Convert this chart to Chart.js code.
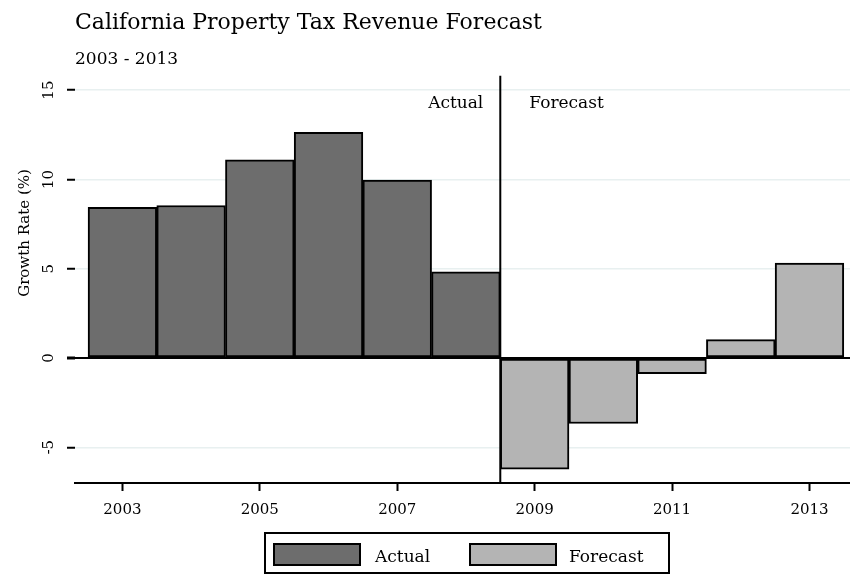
<!DOCTYPE html>
<html>
<head>
<meta charset="utf-8">
<script src="https://cdn.jsdelivr.net/npm/chart.js@4"></script>
<style>
  html, body { margin: 0; padding: 0; background: #fff; }
  #wrap { position: relative; width: 850px; height: 574px; }
  #legend { position: absolute; left: 264px; top: 532px; width: 406px; height: 42px; box-sizing: border-box;
            border: 2px solid #000; font-family: "DejaVu Serif"; font-size: 17px; color: #000; }
  .sw { position: absolute; top: 9px; width: 88px; height: 23px; box-sizing: border-box; border: 2px solid #000; }
  .lbl { position: absolute; top: 11px; line-height: 23px; white-space: nowrap; }
</style>
</head>
<body>
<div id="wrap">
  <canvas id="chart" width="850" height="574"></canvas>
  <div id="legend"></div>
</div>
<script>
// chart data
const titleText = 'California Property Tax Revenue Forecast';
const subtitleText = '2003 - 2013';
const yAxisTitle = 'Growth Rate (%)';
const actualYears = [2003, 2004, 2005, 2006, 2007, 2008];
const actualValues = [8.43, 8.54, 11.1, 12.64, 9.96, 4.83];
const forecastYears = [2009, 2010, 2011, 2012, 2013];
const forecastValues = [-6.22, -3.67, -0.88, 1.03, 5.32];
const xTickYears = [2003, 2005, 2007, 2009, 2011, 2013];
const yTickValues = [-5, 0, 5, 10, 15];
const splitYear = 2008.5;

const FONT = 'DejaVu Serif';
const GRID = '#e8f0f0';

function toPoints(years, values) {
  return years.map((x, i) => ({ x: x, y: values[i] }));
}

// vertical divider with "Actual" / "Forecast" labels, plus the y title
const dividerPlugin = {
  id: 'divider',
  afterDatasetsDraw(chart) {
    const { ctx, chartArea, scales } = chart;
    const x = scales.x.getPixelForValue(splitYear);
    ctx.save();
    ctx.strokeStyle = '#000';
    ctx.lineWidth = 2;
    ctx.beginPath();
    ctx.moveTo(x, chartArea.top);
    ctx.lineTo(x, chartArea.bottom);
    ctx.stroke();

    ctx.fillStyle = '#000';
    ctx.font = '17px "' + FONT + '"';
    ctx.textBaseline = 'alphabetic';
    ctx.textAlign = 'right';
    ctx.fillText('Actual', x - 17, chartArea.top + 32);
    ctx.textAlign = 'left';
    ctx.fillText('Forecast', x + 29, chartArea.top + 32);

    // y axis title, centred a bit above the middle as in the original
    ctx.font = '15px "' + FONT + '"';
    ctx.translate(25, scales.y.getPixelForValue(7));
    ctx.rotate(-Math.PI / 2);
    ctx.textAlign = 'center';
    ctx.textBaseline = 'middle';
    ctx.fillText(yAxisTitle, 0, 0);
    ctx.restore();
  }
};

const barStyle = {
  borderColor: '#000',
  borderWidth: 2,
  borderSkipped: false,
  grouped: false,
  barPercentage: 1,
  categoryPercentage: 1
};

const chart = new Chart(document.getElementById('chart'), {
  type: 'bar',
  data: {
    datasets: [
      Object.assign({ label: 'Actual', data: toPoints(actualYears, actualValues), backgroundColor: '#6d6d6d' }, barStyle),
      Object.assign({ label: 'Forecast', data: toPoints(forecastYears, forecastValues), backgroundColor: '#b4b4b4' }, barStyle)
    ]
  },
  options: {
    responsive: false,
    animation: false,
    layout: { padding: { left: 0, right: 0, top: 0, bottom: 45 } },
    plugins: {
      legend: { display: false },
      tooltip: { enabled: false },
      title: {
        display: true, text: titleText, align: 'start', fullSize: false, color: '#000',
        font: { family: FONT, size: 22, weight: 'normal' },
        padding: { top: 10, bottom: 0 }
      },
      subtitle: {
        display: true, text: subtitleText, align: 'start', fullSize: false, color: '#000',
        font: { family: FONT, size: 17, weight: 'normal' },
        padding: { top: 13, bottom: 6 }
      }
    },
    scales: {
      x: {
        type: 'linear',
        offset: false,
        min: 2002.31,
        max: 2013.59,
        afterBuildTicks: s => { s.ticks = xTickYears.map(v => ({ value: v })); },
        ticks: {
          color: '#000', padding: 10, maxRotation: 0,
          font: { family: FONT, size: 15 },
          callback: v => String(v)
        },
        grid: { offset: false, drawOnChartArea: false, drawTicks: true, tickLength: 8, tickColor: '#000', tickWidth: 2 },
        border: { display: true, color: '#000', width: 2 }
      },
      y: {
        min: -7,
        max: 15.8,
        afterBuildTicks: s => { s.ticks = yTickValues.map(v => ({ value: v })); },
        afterFit: s => { s.width = 75; },
        ticks: {
          color: '#000', padding: 8, minRotation: 90, maxRotation: 90, crossAlign: 'center',
          font: { family: FONT, size: 15 }
        },
        grid: {
          color: c => (c.tick && c.tick.value === 0 ? '#000' : GRID),
          lineWidth: c => (c.tick && c.tick.value === 0 ? 2 : 1.5),
          tickColor: '#000',
          tickLength: 8,
          tickWidth: c => (c.tick && c.tick.value === 0 ? 3 : 2)
        },
        border: { display: false }
      }
    }
  },
  plugins: [dividerPlugin]
});

// html legend built from the datasets
const legendEl = document.getElementById('legend');
const swatchLeft = [7, 203];
const labelLeft = [109, 303];
chart.data.datasets.forEach((ds, i) => {
  const sw = document.createElement('div');
  sw.className = 'sw';
  sw.style.left = swatchLeft[i] + 'px';
  sw.style.background = ds.backgroundColor;
  legendEl.appendChild(sw);
  const lb = document.createElement('div');
  lb.className = 'lbl';
  lb.style.left = labelLeft[i] + 'px';
  lb.textContent = ds.label;
  legendEl.appendChild(lb);
});
</script>
</body>
</html>
